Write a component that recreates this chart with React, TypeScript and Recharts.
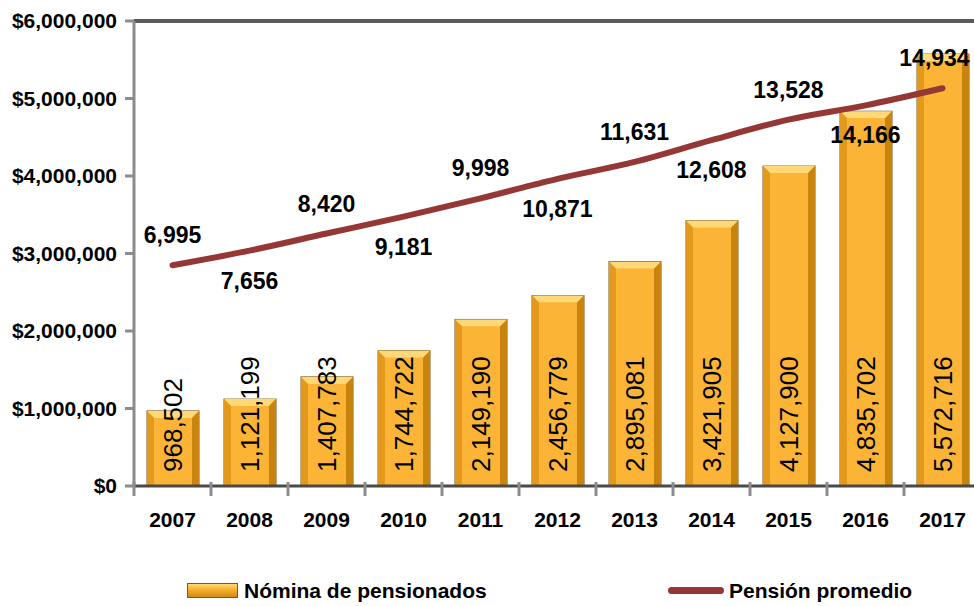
import React from 'react';
import {
  ComposedChart,
  Bar,
  Line,
  XAxis,
  YAxis,
  LabelList,
  ReferenceLine,
} from 'recharts';

const years = ['2007', '2008', '2009', '2010', '2011', '2012', '2013', '2014', '2015', '2016', '2017'];
const nomina = [968502, 1121199, 1407783, 1744722, 2149190, 2456779, 2895081, 3421905, 4127900, 4835702, 5572716];
const pension = [6995, 7656, 8420, 9181, 9998, 10871, 11631, 12608, 13528, 14166, 14934];
const yTicks = [0, 1000000, 2000000, 3000000, 4000000, 5000000, 6000000];

const data = years.map((year, i) => ({ year, nomina: nomina[i], pension: pension[i] }));

const CHART_W = 981;
const CHART_H = 606;
const Y_AXIS_W = 134;
const BAND = (CHART_W - Y_AXIS_W) / years.length;
const BASE_Y = 486;
const FONT = "'Liberation Sans', Arial, sans-serif";

const fmt = (v: number) => v.toLocaleString('en-US');

const GoldBar = (props: any) => {
  const { x, y, width, height } = props;
  if (!height || height <= 0) return null;
  const b = 7;
  return (
    <g>
      <rect x={x} y={y} width={width} height={height} fill="#F9B233" stroke="#7a5a14" strokeWidth={1} />
      <polygon points={`${x},${y} ${x + width},${y} ${x + width - b},${y + b} ${x + b},${y + b}`} fill="#FFD978" />
      <polygon points={`${x},${y} ${x + b},${y + b} ${x + b},${y + height} ${x},${y + height}`} fill="#E39A1C" />
      <polygon points={`${x + width},${y} ${x + width - b},${y + b} ${x + width - b},${y + height} ${x + width},${y + height}`} fill="#C9840F" />
      <rect x={x + b} y={y + b} width={width - 2 * b} height={height - b} fill="#FBB436" />
    </g>
  );
};

const BarValue = (props: any) => {
  const { x, width, value } = props;
  const cx = x + width / 2;
  const cy = BASE_Y - 14;
  return (
    <text
      x={cx}
      y={cy}
      transform={`rotate(-90 ${cx} ${cy})`}
      textAnchor="start"
      dominantBaseline="central"
      fontFamily={FONT}
      fontSize={26}
      fill="#000"
    >
      {fmt(value)}
    </text>
  );
};

const LineValue = (props: any) => {
  const { x, y, value, index } = props;
  const dy = index % 2 === 0 ? -30 : 30;
  const last = index === pension.length - 1;
  return (
    <text
      x={last ? x - 8 : x}
      y={y + dy}
      textAnchor="middle"
      dominantBaseline="central"
      fontFamily={FONT}
      fontWeight={700}
      fontSize={23}
      fill="#000"
    >
      {fmt(value)}
    </text>
  );
};

const YearTick = (props: any) => {
  const { x, payload } = props;
  const sx = x - BAND / 2;
  return (
    <g>
      <line x1={sx} y1={BASE_Y - 4} x2={sx} y2={BASE_Y + 10} stroke="#8c8c8c" strokeWidth={3} />
      <text
        x={x}
        y={BASE_Y + 33}
        textAnchor="middle"
        dominantBaseline="central"
        fontFamily={FONT}
        fontWeight={700}
        fontSize={21}
        fill="#000"
      >
        {payload.value}
      </text>
    </g>
  );
};

export default function App() {
  return (
    <div style={{ position: 'fixed', left: 0, top: 0, width: 974, height: 606, overflow: 'hidden', background: '#fff' }}>
      <ComposedChart
        width={CHART_W}
        height={CHART_H}
        data={data}
        margin={{ top: 21, right: 0, bottom: 80, left: 0 }}
      >
        <XAxis
          dataKey="year"
          height={40}
          axisLine={{ stroke: '#4a4a4a', strokeWidth: 3 }}
          tickLine={false}
          tick={<YearTick />}
          interval={0}
        />
        <YAxis
          yAxisId="left"
          width={Y_AXIS_W}
          domain={[0, 6000000]}
          ticks={yTicks}
          interval={0}
          tickFormatter={(v: number) => '$' + fmt(v)}
          axisLine={{ stroke: '#8c8c8c', strokeWidth: 3 }}
          tickLine={{ stroke: '#8c8c8c', strokeWidth: 3 }}
          tickSize={9}
          tickMargin={8}
          tick={{ fill: '#000', fontFamily: FONT, fontWeight: 700, fontSize: 21 }}
        />
        <YAxis yAxisId="right" orientation="right" hide domain={[-2900, 17950]} />
        <ReferenceLine yAxisId="left" y={6000000} stroke="#5a5a5a" strokeWidth={4} />
        <Bar yAxisId="left" dataKey="nomina" barSize={52} shape={<GoldBar />} isAnimationActive={false}>
          <LabelList dataKey="nomina" content={<BarValue />} />
        </Bar>
        <Line
          yAxisId="right"
          dataKey="pension"
          type="monotone"
          stroke="#953735"
          strokeWidth={6}
          strokeLinecap="round"
          dot={false}
          activeDot={false}
          isAnimationActive={false}
        >
          <LabelList dataKey="pension" content={<LineValue />} />
        </Line>
      </ComposedChart>
      <div
        style={{
          position: 'absolute',
          top: 578,
          left: 0,
          width: 974,
          height: 28,
          fontFamily: FONT,
          fontWeight: 700,
          fontSize: 21,
          color: '#000',
        }}
      >
        <div style={{ position: 'absolute', left: 187, top: 5, width: 51, height: 15, background: 'linear-gradient(#FFD978, #F9B233 40%, #D08A12)', border: '1px solid #7a5a14', boxSizing: 'border-box' }} />
        <div style={{ position: 'absolute', left: 244, top: 1, lineHeight: '24px' }}>Nómina de pensionados</div>
        <div style={{ position: 'absolute', left: 668, top: 9, width: 56, height: 7, borderRadius: 4, background: '#953735' }} />
        <div style={{ position: 'absolute', left: 729, top: 1, lineHeight: '24px' }}>Pensión promedio</div>
      </div>
    </div>
  );
}
